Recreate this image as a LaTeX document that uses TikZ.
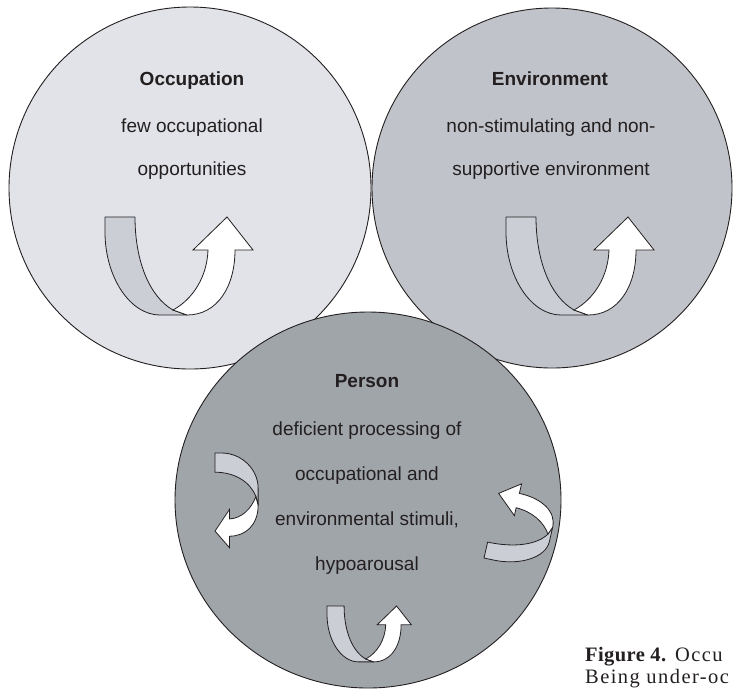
\documentclass[tikz,border=0pt]{standalone}
\usepackage{fontspec}
\usetikzlibrary{shapes.geometric}
\setmainfont{Liberation Sans}
\newfontfamily\capfont[LetterSpace=7]{Liberation Serif}
\newfontfamily\capboldfont[LetterSpace=2]{Liberation Serif Bold}
\definecolor{occfill}{HTML}{E1E3E8}
\definecolor{envfill}{HTML}{C0C3C9}
\definecolor{perfill}{HTML}{A0A5AA}
\definecolor{ribbongray}{HTML}{CBCED5}
\definecolor{outline}{HTML}{231F20}
\definecolor{txt}{HTML}{231F20}
\newcommand\ribbonarrow[1]{%
  \begin{scope}[#1]
    \filldraw[ribbonback] (0,0) -- (0,15) .. controls (0,60) and (25,98) .. (55,98)
      -- (82,98) -- (68,93) .. controls (45,80) and (30,45) .. (30,0) -- cycle;
    \filldraw[ribbonfront] (68,93) -- (82,98) .. controls (112,98) and (130,70) .. (130,33)
      -- (148,33) -- (122,0) -- (88,33) -- (103,33) .. controls (102,60) and (88,82) .. (68,93) -- cycle;
  \end{scope}}
\begin{document}
\begin{tikzpicture}[x=1pt,y=-1pt,
  bubble/.style={draw=outline, line width=0.9pt, inner sep=0pt},
  ribbonback/.style={fill=ribbongray, draw=outline, line width=0.8pt, line join=round},
  ribbonfront/.style={fill=white, draw=outline, line width=0.8pt, line join=miter},
  label/.style={anchor=base, inner sep=0pt, text=txt, font=\fontsize{19}{22}\selectfont},
  title/.style={label, font=\fontsize{19}{22}\selectfont\bfseries},
  caption/.style={anchor=base west, inner sep=0pt, text=txt, font=\capfont\fontsize{20.5}{24}\selectfont}]
\useasboundingbox (0,0) rectangle (735,689);
\clip (0,0) rectangle (735,689);
\fill[white] (0,0) rectangle (735,689);
% circles
\node[bubble, circle, fill=occfill, minimum size=362pt] (occ) at (190,188) {};
\node[bubble, circle, fill=envfill, minimum size=360pt] (env) at (552,188) {};
\node[bubble, ellipse, fill=perfill, minimum width=386pt, minimum height=376pt] (per) at (368,500) {};
% texts
\node[title] (occT) at (192,85) {Occupation};
\node[label] (occ1) at (192,132) {few occupational};
\node[label] (occ2) at (192,175) {opportunities};
\node[title] (envT) at (550,85) {Environment};
\node[label] (env1) at (551,132) {non-stimulating and non-};
\node[label] (env2) at (551,175) {supportive environment};
\node[title] (perT) at (367,387) {Person};
\node[label] (per1) at (367,435) {deficient processing of};
\node[label] (per2) at (367,480) {occupational and};
\node[label] (per3) at (367,525) {environmental stimuli,};
\node[label] (per4) at (367,570) {hypoarousal};
% arrows
\ribbonarrow{shift={(105,217)}}
\ribbonarrow{shift={(506,217)}}
\ribbonarrow{shift={(327,606)}, x={(0.57pt,0pt)}, y={(0pt,-0.57pt)}}
\ribbonarrow{shift={(215,453)}, x={(0pt,-0.64pt)}, y={(0.44pt,0pt)}}
\ribbonarrow{shift={(484,558)}, x={(0.12pt,0.53pt)}, y={(0.6pt,-0.13pt)}}
% caption
\node[caption] (cap1) at (585,661) {{\capboldfont Figure 4.} Occu};
\node[caption] (cap2) at (585,683) {Being under-oc};
\end{tikzpicture}
\end{document}
